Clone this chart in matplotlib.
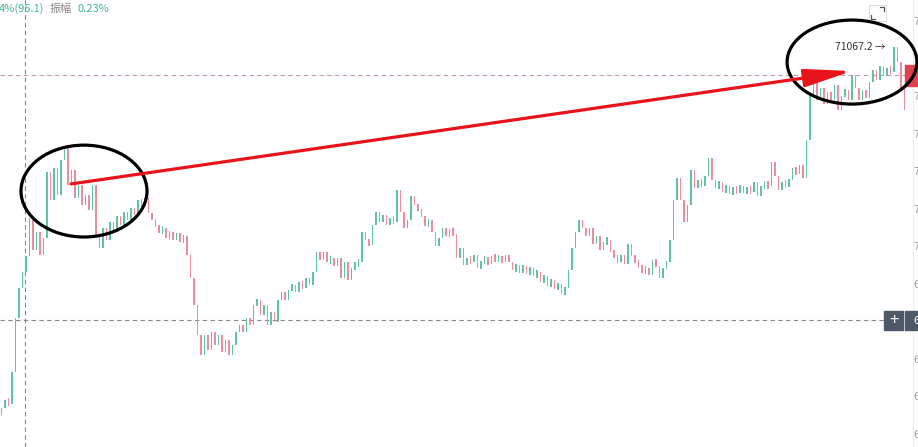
import matplotlib.pyplot as plt
from matplotlib.patches import Ellipse, Rectangle

plt.rcParams['font.family'] = ['Noto Sans CJK SC', 'DejaVu Sans']

# K线收盘价（开盘价取前一根收盘价）
first_open = 69105
closes = [69142, 69185, 69163, 69334, 69622, 69782, 69867, 69953, 70155, 69985,
          70081, 69958, 70049, 70401, 70251, 70422, 70278, 70465, 70539, 70331,
          70411, 70262, 70331, 70225, 70278, 70198, 70331, 70065, 69995, 70102,
          70038, 70134, 70081, 70166, 70118, 70187, 70145, 70209, 70171, 70251,
          70219, 70262, 70182, 70145, 70113, 70081, 70102, 70049, 70081, 70038,
          70075, 70027, 70059, 69958, 69835, 69691, 69531, 69425, 69531, 69451,
          69547, 69478, 69531, 69441, 69505, 69425, 69478, 69547, 69585, 69547,
          69622, 69585, 69691, 69718, 69638, 69691, 69585, 69654, 69601, 69718,
          69761, 69718, 69771, 69798, 69761, 69814, 69782, 69835, 69798, 69867,
          69974, 69931, 69974, 69921, 69942, 69899, 69942, 69835, 69921, 69825,
          69889, 69910, 69921, 70081, 70038, 70011, 70118, 70187, 70134, 70171,
          70118, 70155, 70134, 70305, 70187, 70102, 70145, 70273, 70225, 70198,
          70166, 70113, 70145, 70081, 70006, 70049, 70102, 70059, 70091, 70070,
          69942, 69995, 69905, 69942, 69921, 69958, 69889, 69921, 69942, 69910,
          69953, 69931, 69947, 69921, 69958, 69921, 69878, 69899, 69867, 69899,
          69857, 69889, 69846, 69867, 69814, 69846, 69793, 69825, 69777, 69803,
          69750, 69782, 69878, 69995, 70081, 70145, 70102, 70059, 70102, 70017,
          70059, 69985, 70027, 70038, 69974, 69953, 69921, 69958, 69910, 70017,
          69953, 69921, 69899, 69867, 69889, 69851, 69931, 69899, 69835, 69889,
          69921, 70038, 70251, 70369, 70251, 70134, 70225, 70411, 70315, 70358,
          70326, 70379, 70475, 70358, 70315, 70347, 70294, 70326, 70283, 70315,
          70294, 70326, 70289, 70315, 70294, 70347, 70273, 70326, 70337, 70326,
          70454, 70379, 70305, 70347, 70326, 70358, 70422, 70390, 70438, 70369,
          70571, 70811, 70881, 70785, 70849, 70763, 70827, 70785, 70865, 70731,
          70806, 70838, 70785, 70918, 70849, 70785, 70838, 70795, 70881, 70945,
          70891, 70966, 70913, 70955, 70934, 71067.2, 70987, 70849, 70731]

peak_label = '71067.2'
last_price = 70918
cross_price = 69611
cross_index = 6.7
price_ticks = list(range(69000, 71201, 200))

opens = [first_open] + closes[:-1]
idx = list(range(len(closes)))
green = '#5ec5a2'
red = '#ee8c9d'
colors = [green if c >= o else red for o, c in zip(opens, closes)]
# 实体太短时拉长一点，方便看清
heights = [max(abs(c - o), 40) for o, c in zip(opens, closes)]
bottoms = [(o + c) / 2 - h / 2 for o, c, h in zip(opens, closes, heights)]

W, H = 918, 447
fig = plt.figure(figsize=(W / 100, H / 100), dpi=100)
ax = fig.add_axes([0, 0, 1, 1])
ax.set_xlim(-0.43, 261.86)
ax.set_ylim(68934, 71318)
ax.axis('off')

# 参考线
ax.axhline(last_price, xmax=905 / W, color='#c49aa2', ls=(0, (4, 3)), lw=0.8, zorder=1)
ax.axhline(cross_price, xmax=884 / W, color='#888888', ls=(0, (4, 3)), lw=0.8, zorder=1)
ax.axvline(cross_index, color='#888888', ls=(0, (4, 3)), lw=0.8, zorder=1)
ax.axvline(260.3, color='#eeeeee', lw=0.8, zorder=0)

ax.bar(idx, heights, bottom=bottoms, width=0.55, color=colors, linewidth=0, zorder=2)

# 右侧价格刻度
ytr = ax.get_yaxis_transform()
for p in price_ticks:
    ax.text(913 / W, p, str(p), transform=ytr, fontsize=8, color='#9a9a9a',
            va='center', ha='left', zorder=1)

# 价格标签
ax.add_patch(Rectangle((905 / W, 1 - 86 / H), 13 / W, 21 / H, transform=ax.transAxes,
                       color='#e0414f', zorder=3))
ax.add_patch(Rectangle((884 / W, 1 - 330 / H), 19 / W, 19 / H, transform=ax.transAxes,
                       color='#4d5868', zorder=3))
ax.text(893.5 / W, 1 - 320.5 / H, '+', transform=ax.transAxes, color='white',
        fontsize=12, ha='center', va='center', zorder=4)
ax.add_patch(Rectangle((905 / W, 1 - 330 / H), 13 / W, 19 / H, transform=ax.transAxes,
                       color='#4d5868', zorder=3))
ax.text(913 / W, 1 - 320.5 / H, str(cross_price), transform=ax.transAxes, color='white',
        fontsize=8, ha='left', va='center', zorder=4)

# 右上角图标
ax.add_patch(Rectangle((869 / W, 1 - 21 / H), 17 / W, 16 / H, transform=ax.transAxes,
                       fill=False, ec='#dddddd', lw=0.8, zorder=3))
ax.plot([880 / W, 884 / W, 884 / W], [1 - 7 / H, 1 - 7 / H, 1 - 11 / H],
        transform=ax.transAxes, color='#555555', lw=0.9, zorder=4)
ax.plot([871 / W, 871 / W, 875 / W], [1 - 15 / H, 1 - 19 / H, 1 - 19 / H],
        transform=ax.transAxes, color='#555555', lw=0.9, zorder=4)

# 顶部文字
fig.text(-1 / W, 1 - 9 / H, '4%(95.1)', color='#3dbb8e', fontsize=8, va='center')
fig.text(50 / W, 1 - 9 / H, '振幅', color='#888888', fontsize=8, va='center')
fig.text(78 / W, 1 - 9 / H, '0.23%', color='#3dbb8e', fontsize=8, va='center')

# 最高价标注
ax.text(238.1, 71067.2, peak_label + ' →', fontsize=7.5, color='#333333',
        va='center', ha='left', zorder=5)

# 圈和箭头
ax.add_patch(Ellipse((23.57, 70299), 36, 490, fill=False, ec='black', lw=2.3, zorder=6))
ax.add_patch(Ellipse((243.0, 70987), 37.1, 448, fill=False, ec='black', lw=2.3, zorder=6))
ax.annotate('', xy=(242.97, 70939), xytext=(19.86, 70337),
            arrowprops=dict(arrowstyle='-|>,head_length=2.9,head_width=0.55',
                            color='#e8141c', lw=2.3, shrinkA=0, shrinkB=0),
            zorder=7)

fig.savefig('out.png', dpi=100)
